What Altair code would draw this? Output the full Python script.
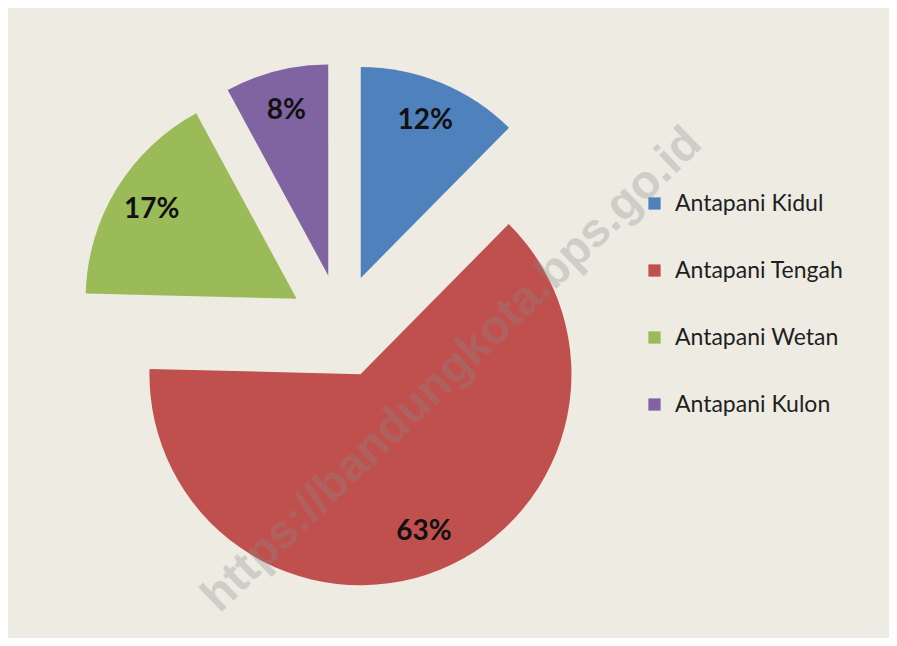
import math
import altair as alt
import pandas as pd

categories = ["Antapani Kidul", "Antapani Tengah", "Antapani Wetan", "Antapani Kulon"]
shares = [12.4, 63.0, 16.7, 7.9]
labels = ["12%", "63%", "17%", "8%"]
colors = ["#4F81BD", "#C0504D", "#9BBB59", "#8064A2"]
watermark = ["https://bandungkota.bps.go.id"]

W, H = 881, 630
CX, CY = 333, 318
R = 211
EXPLODE = 52
LABEL_R = 170

df = pd.DataFrame({"category": categories, "share": shares, "label": labels,
                   "order": list(range(len(categories)))})

base = alt.Chart(df).transform_window(
    cum="sum(share)", sort=[alt.SortField("order")], frame=[None, 0]
).transform_joinaggregate(
    total="sum(share)"
).transform_calculate(
    start="datum.cum - datum.share",
    mid_ang="(datum.cum - datum.share / 2) / datum.total * 2 * PI",
).transform_calculate(
    cx=f"{CX} + {EXPLODE} * sin(datum.mid_ang)",
    cy=f"{CY} - {EXPLODE} * cos(datum.mid_ang)",
    lx=f"{CX} + {EXPLODE + LABEL_R} * sin(datum.mid_ang)",
    ly=f"{CY} - {EXPLODE + LABEL_R} * cos(datum.mid_ang)",
)

arcs = base.mark_arc(outerRadius=R).encode(
    theta=alt.Theta("start:Q", scale=alt.Scale(domain=[0, 100], range=[0, 2 * math.pi]), stack=None),
    theta2="cum:Q",
    x=alt.X("cx:Q", scale=None, axis=None),
    y=alt.Y("cy:Q", scale=None, axis=None),
    color=alt.Color(
        "category:N",
        sort=categories,
        scale=alt.Scale(domain=categories, range=colors),
        legend=alt.Legend(
            title=None, orient="none", legendX=635, legendY=184,
            symbolType="square", symbolSize=150, symbolStrokeWidth=0,
            labelFontSize=23, labelFont="Lato", labelColor="#1f1f1f",
            labelLimit=400, rowPadding=43, labelOffset=9, padding=0,
        ),
    ),
)

text = base.mark_text(font="Lato", fontWeight="bold", fontSize=28, color="#111111").encode(
    x=alt.X("lx:Q", scale=None, axis=None),
    y=alt.Y("ly:Q", scale=None, axis=None),
    text="label:N",
)

wm = alt.Chart(pd.DataFrame({"t": watermark})).mark_text(
    angle=316, fontSize=47, fontWeight="bold", font="Liberation Sans",
    color="#8a8a8a", opacity=0.3,
).encode(x=alt.value(444), y=alt.value(362), text="t:N")

chart = alt.layer(arcs, text, wm).properties(
    width=W, height=H, autosize=alt.AutoSizeParams(type="none"), padding=0,
    background="#EEEBE2",
).configure_view(stroke=None)

chart.save("out.html", embed_options={"renderer": "svg", "actions": False})
